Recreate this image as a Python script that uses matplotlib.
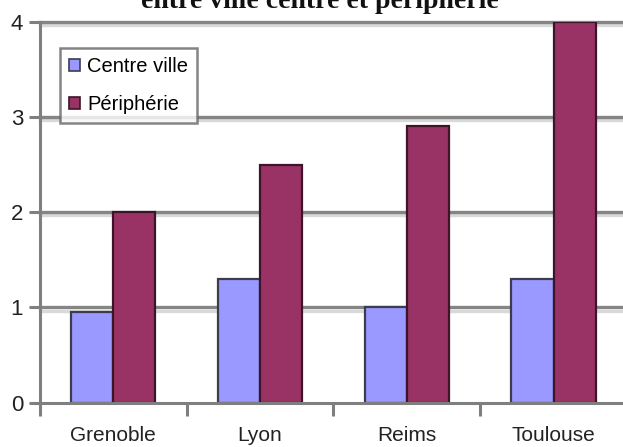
import matplotlib
matplotlib.use("Agg")
import matplotlib.pyplot as plt
import matplotlib.patheffects as pe
import numpy as np

cities = ["Grenoble", "Lyon", "Reims", "Toulouse"]
centre_ville = [0.95, 1.3, 1.0, 1.3]
peripherie = [2.0, 2.5, 2.9, 4.0]
series_labels = ["Centre ville", "Périphérie"]
y_ticks = [0, 1, 2, 3, 4]
title_text = "entre ville centre et périphérie"

blue = "#9999ff"
plum = "#993366"
axis_grey = "#7f7f7f"
sans = ["Liberation Sans", "DejaVu Sans"]

W, H = 623, 447
fig = plt.figure(figsize=(W / 100, H / 100), dpi=100)
fig.patch.set_facecolor("white")

# plot area (runs slightly past the right edge of the canvas)
left_px, right_px, top_px, bottom_px = 39.7, 627.0, 21.7, 402.7
ax = fig.add_axes([left_px / W, (H - bottom_px) / H,
                   (right_px - left_px) / W, (bottom_px - top_px) / H])
ax.set_facecolor("white")

x = np.arange(len(cities))
bw = 0.287
ax.bar(x - bw / 2, centre_ville, width=bw, color=blue, edgecolor="#3c3c50",
       linewidth=1.6, zorder=3, label=series_labels[0])
ax.bar(x + bw / 2, peripherie, width=bw, color=plum, edgecolor="#3d1428",
       linewidth=1.6, zorder=3, label=series_labels[1])

ax.set_xlim(-0.5, len(cities) - 0.5)
ax.set_ylim(0, 4)

# horizontal gridlines with a soft shadow
for v in y_ticks[1:]:
    ax.axhline(v, color="#858585", lw=2.4, zorder=1, clip_on=False,
               path_effects=[pe.SimpleLineShadow(offset=(0, -2.2),
                                                 shadow_color="#d9d9d9", alpha=1),
                             pe.Normal()])

for s in ["top", "right"]:
    ax.spines[s].set_visible(False)
for s in ["left", "bottom"]:
    ax.spines[s].set_color(axis_grey)
    ax.spines[s].set_linewidth(2.2)
    ax.spines[s].set_zorder(4)

ax.set_yticks(y_ticks)
ax.set_yticklabels([str(v) for v in y_ticks], family=sans, fontsize=16,
                   color="#222222")
ax.tick_params(axis="y", direction="out", length=8, width=2.2,
               color=axis_grey, pad=4)

# category boundary ticks, category names centred under each group
ax.set_xticks(np.arange(-0.5, len(cities), 1.0))
ax.set_xticklabels([])
ax.tick_params(axis="x", which="major", direction="out", length=9, width=2.2,
               color=axis_grey)
ax.set_xticks(x, minor=True)
ax.set_xticklabels(cities, minor=True, family=sans, fontsize=15,
                   color="#222222")
ax.tick_params(axis="x", which="minor", length=0, pad=17)

leg = ax.legend(loc="upper left", bbox_to_anchor=(60 / W, 1 - 48 / H),
                bbox_transform=fig.transFigure, frameon=True, fancybox=False,
                prop={"family": sans, "size": 14.5}, handlelength=0.55,
                handleheight=0.55, handletextpad=0.35, labelspacing=0.95,
                borderpad=0.45, borderaxespad=0)
leg.get_frame().set_edgecolor("#666666")
leg.get_frame().set_linewidth(1.8)
for h in leg.legend_handles:
    h.set_linewidth(1.2)

# title, whose upper part lies above the canvas
fig.text(320 / W, 1 - 8 / H, title_text, ha="center", va="baseline",
         family=["Liberation Serif", "DejaVu Serif"], fontweight="bold",
         fontsize=20, color="#111111")

fig.savefig("out.png", dpi=100, facecolor="white")
